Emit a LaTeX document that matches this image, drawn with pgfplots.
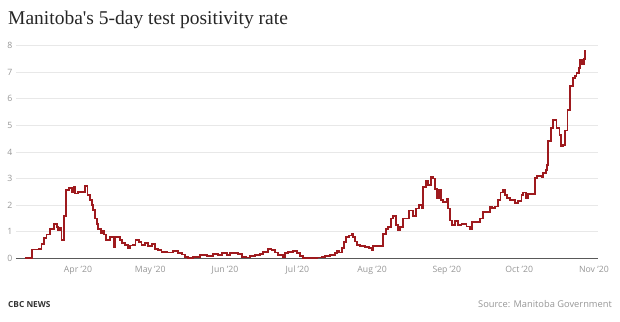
\documentclass[border=0pt]{standalone}
\usepackage{pgfplots}
\pgfplotsset{compat=1.18}
\usepackage{fontspec}
\setmainfont{Open Sans}
\newfontfamily\titlefont{Liberation Serif}
\definecolor{linered}{RGB}{158,26,30}
\definecolor{ticklab}{RGB}{150,150,150}
\definecolor{gridc}{RGB}{232,232,232}
\begin{document}
\begin{tikzpicture}
\path (0pt,0pt) rectangle (620pt,321pt);
\begin{axis}[
  at={(16pt,62.7pt)}, anchor=south west,
  scale only axis, width=582pt, height=212.6pt,
  xmin=65.3, xmax=306.7, ymin=0, ymax=8,
  axis x line*=bottom, axis y line*=left,
  x axis line style={draw=black!65, line width=0.8pt},
  y axis line style={draw=none},
  major tick length=0pt,
  ytick={0,1,...,8},
  xtick={91,121,152,182,213,244,274,305},
  xticklabels={Apr ’20,May ’20,Jun ’20,Jul ’20,Aug ’20,Sep ’20,Oct ’20,Nov ’20},
  ymajorgrids, grid style={gridc, line width=0.7pt},
  /pgf/number format/assume math mode=true,
  ticklabel style={font=\fontsize{8.7}{10}\selectfont, text=ticklab},
  xticklabel style={yshift=-4pt},
  yticklabel style={xshift=0pt},
  clip=false,
]
\addplot[const plot, mark=none, draw=linered, line width=1.75pt, line join=miter] coordinates {
(69.0,0) (72.0,0.33) (74.8,0.36) (75.9,0.55) (77.0,0.75) (78.0,0.9) (79.4,1.1)
(81.0,1.28) (82.2,1.18) (82.8,1.05) (83.5,1.15) (84.2,0.68) (85.3,1.6) (85.9,2.56)
(87.3,2.64) (88.4,2.5) (89.1,2.67) (89.8,2.44) (91.1,2.5) (93.9,2.73) (95.0,2.38)
(96.0,2.2) (96.7,2.0) (97.3,1.83) (98.1,1.5) (98.8,1.3) (99.4,1.1) (100.5,0.94)
(101.2,1.05) (101.9,0.9) (102.5,0.7) (104.3,0.8) (106.1,0.42) (106.6,0.8) (108.4,0.7)
(109.4,0.58) (110.5,0.5) (111.6,0.38) (112.6,0.48) (113.9,0.5) (114.9,0.68) (116.3,0.62)
(117.4,0.5) (118.8,0.58) (120.2,0.45) (121.6,0.55) (122.9,0.35) (124.3,0.3) (125.7,0.25)
(127.8,0.22) (130.5,0.27) (132.6,0.2) (134.0,0.14) (135.4,0.06) (136.7,0.02) (138.8,0.05)
(141.6,0.12) (144.4,0.1) (147.1,0.15) (149.2,0.12) (150.6,0.19) (152.7,0.12) (154.0,0.19)
(157.5,0.15) (158.9,0.06) (160.7,0.03) (162.3,0.1) (164.4,0.12) (166.5,0.15) (167.9,0.25)
(169.9,0.35) (171.3,0.31) (172.7,0.22) (174.1,0.12) (175.9,0.06) (176.9,0.19) (178.2,0.25)
(180.3,0.28) (181.7,0.19) (183.1,0.1) (184.4,0.0) (190.0,0.03) (192.1,0.05) (193.4,0.1)
(195.5,0.13) (197.6,0.2) (198.3,0.29) (199.4,0.22) (200.4,0.38) (201.3,0.6) (202.2,0.8)
(203.5,0.86) (204.5,0.92) (205.2,0.8) (205.9,0.63) (206.8,0.5) (208.0,0.45) (210.0,0.42)
(211.8,0.38) (212.8,0.29) (213.5,0.45) (217.6,0.92) (218.7,1.1) (219.7,1.17) (220.7,1.5)
(221.8,1.6) (222.9,1.24) (223.6,1.05) (224.6,1.17) (225.9,1.5) (228.4,1.8) (230.1,1.6)
(231.2,1.87) (232.3,2.0) (233.6,1.9) (234.2,2.69) (235.3,2.9) (236.3,2.75) (237.4,3.06)
(238.4,3.0) (239.1,2.62) (239.8,2.25) (240.9,2.56) (241.6,2.2) (242.5,2.12) (243.9,2.25)
(244.6,1.87) (245.3,1.42) (246.2,1.26) (247.4,1.39) (248.7,1.24) (250.1,1.3) (252.2,1.2)
(253.6,1.08) (254.3,1.36) (257.7,1.5) (259.1,1.75) (261.9,1.93) (262.6,1.89) (264.0,1.95)
(265.3,2.2) (266.3,2.48) (267.2,2.58) (268.1,2.39) (268.8,2.27) (270.2,2.2) (272.3,2.08)
(273.6,2.17) (275.0,2.39) (275.7,2.48) (276.8,2.27) (277.8,2.43) (280.5,3.02) (281.5,3.1)
(283.3,3.05) (284.0,3.2) (285.0,3.33) (285.6,3.52) (286.1,4.4) (287.1,4.9) (288.1,5.21)
(289.5,4.9) (290.7,4.65) (291.2,4.21) (292.3,4.27) (293.0,4.81) (294.0,5.59) (295.1,6.47)
(296.2,6.78) (297.1,6.87) (297.8,6.97) (298.7,7.16) (299.2,7.47) (300.2,7.32) (301.0,7.5)
(301.4,7.81) (301.7,7.81)
};
\end{axis}
\node[anchor=base west, inner sep=0pt, text=black!85] at (8pt,296pt) {\titlefont\fontsize{19.5}{24}\selectfont Manitoba's 5-day test positivity rate};
\node[anchor=base west, inner sep=0pt, text=black!80] at (8pt,14pt) {\fontsize{8.3}{9}\selectfont\bfseries CBC NEWS};
\node[anchor=base east, inner sep=0pt, text=ticklab] at (612pt,14pt) {\fontsize{9.3}{11}\selectfont Source: Manitoba Government};
\end{tikzpicture}
\end{document}
